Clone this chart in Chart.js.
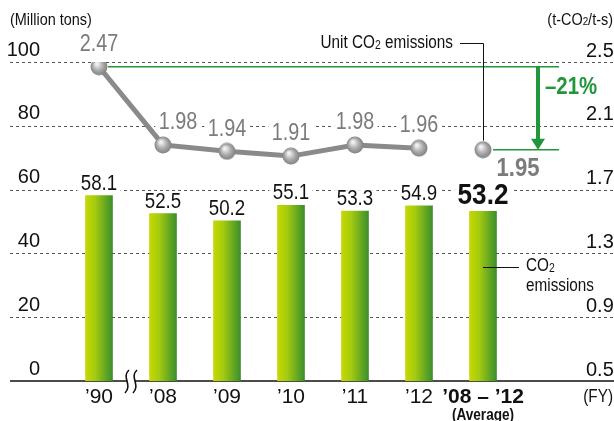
<!DOCTYPE html>
<html>
<head>
<meta charset="utf-8">
<script src="https://cdn.jsdelivr.net/npm/chart.js@4"></script>
<style>
  body { margin: 0; background: #fff; }
  #wrap { width: 614px; height: 421px; }
</style>
</head>
<body>
<div id="wrap"><canvas id="chart" width="614" height="421"></canvas></div>
<script>
const years = ["’90", "’08", "’09", "’10", "’11", "’12", "’08 – ’12"];
const co2Emissions = [58.1, 52.5, 50.2, 55.1, 53.3, 54.9, 53.2];
const unitEmissions = [2.47, 1.98, 1.94, 1.91, 1.98, 1.96, 1.95];
const leftTicks = [0, 20, 40, 60, 80, 100];
const rightTicks = [0.5, 0.9, 1.3, 1.7, 2.1, 2.5];
const reduction = "–21%";

const FONT = "'Liberation Sans', Arial, sans-serif";
const SQUEEZE = 0.85; // reference uses a condensed face
const LAST = years.length - 1;

// grey ball used as point marker
function makeBall(r) {
    const c = document.createElement("canvas");
    c.width = c.height = r * 2;
    const g = c.getContext("2d");
    const grad = g.createRadialGradient(r * 0.75, r * 0.65, 1, r, r, r);
    grad.addColorStop(0, "#f2f2f2");
    grad.addColorStop(0.55, "#a8a8a8");
    grad.addColorStop(1, "#7d7d7d");
    g.fillStyle = grad;
    g.beginPath();
    g.arc(r, r, r - 0.5, 0, Math.PI * 2);
    g.fill();
    return c;
}
const ball = makeBall(9);

// condensed text, optionally knocked out of the dashed grid with a white box
function narrowText(ctx, text, x, y, font, color, align, squeeze, knockout) {
    ctx.save();
    ctx.font = font;
    ctx.textAlign = align || "center";
    ctx.textBaseline = "middle";
    ctx.translate(x, y);
    ctx.scale(squeeze || SQUEEZE, 1);
    if (knockout) {
        const w = ctx.measureText(text).width + 8;
        const h = parseFloat(font.match(/(\d+)px/)[1]) * 0.8;
        ctx.fillStyle = "#fff";
        ctx.fillRect(-w / 2, -h / 2, w, h);
    }
    ctx.fillStyle = color;
    ctx.fillText(text, 0, 0);
    ctx.restore();
}

// text with a subscript "2": parts = [[text, isSub], ...]
function drawParts(ctx, parts, x, y, align, size) {
    ctx.save();
    ctx.fillStyle = "#111";
    ctx.textBaseline = "middle";
    ctx.textAlign = "left";
    let total = 0;
    parts.forEach(([t, sub]) => {
        ctx.font = (sub ? size * 0.68 : size) + "px " + FONT;
        total += ctx.measureText(t).width;
    });
    ctx.translate(x, y);
    ctx.scale(SQUEEZE, 1);
    let cx = align === "right" ? -total : 0;
    parts.forEach(([t, sub]) => {
        ctx.font = (sub ? size * 0.68 : size) + "px " + FONT;
        ctx.fillText(t, cx, sub ? size * 0.12 : 0);
        cx += ctx.measureText(t).width;
    });
    ctx.restore();
}

const decorPlugin = {
    id: "decor",
    beforeDatasetsDraw(chart) {
        const ctx = chart.ctx;
        const y = chart.scales.y;
        ctx.save();
        ctx.strokeStyle = "#555";
        ctx.lineWidth = 1;
        ctx.setLineDash([3, 3]);
        leftTicks.forEach((v) => {
            if (v === leftTicks[0]) return;
            const py = Math.round(y.getPixelForValue(v)) + 0.5;
            ctx.beginPath();
            ctx.moveTo(10, py);
            ctx.lineTo(614, py);
            ctx.stroke();
        });
        ctx.setLineDash([]);
        ctx.strokeStyle = "#111";
        ctx.lineWidth = 1.5;
        const base = y.getPixelForValue(leftTicks[0]);
        ctx.beginPath();
        ctx.moveTo(10, base);
        ctx.lineTo(614, base);
        ctx.stroke();
        ctx.restore();
    },
    afterDatasetsDraw(chart) {
        const ctx = chart.ctx;
        const bars = chart.getDatasetMeta(1).data;
        const pts = chart.getDatasetMeta(0).data;
        const xs = chart.scales.x;
        const base = chart.scales.y.getPixelForValue(0);

        // bar values
        bars.forEach((b, i) => {
            if (i === LAST) {
                narrowText(ctx, co2Emissions[i].toFixed(1), b.x, b.y - 15, "bold 29px " + FONT, "#111", "center", 0.9, true);
            } else {
                narrowText(ctx, co2Emissions[i].toFixed(1), b.x, b.y - 12, "22px " + FONT, "#111", "center", SQUEEZE, true);
            }
        });

        // line values (the '08 label is nudged right, clear of the falling line)
        pts.forEach((p, i) => {
            if (i === LAST) {
                narrowText(ctx, unitEmissions[i].toFixed(2), p.x + 35, p.y + 19, "bold 26px " + FONT, "#7b7b7b");
            } else {
                const dx = i === 1 ? 15 : 0;
                narrowText(ctx, unitEmissions[i].toFixed(2), p.x + dx, p.y - 22, "23px " + FONT, "#7b7b7b", "center", 0.86, true);
            }
        });

        ctx.save();
        // break mark on the axis
        const mid = (xs.getPixelForValue(0) + xs.getPixelForValue(1)) / 2;
        ctx.fillStyle = "#fff";
        ctx.fillRect(mid - 4, base - 2, 8, 4);
        ctx.strokeStyle = "#111";
        ctx.lineWidth = 1.6;
        [-4, 4].forEach((d) => {
            const sx = mid + d;
            ctx.beginPath();
            ctx.moveTo(sx + 2, base - 11);
            ctx.bezierCurveTo(sx - 6, base - 4, sx + 6, base + 4, sx - 2, base + 12);
            ctx.stroke();
        });

        // reduction lines and arrow
        const p0 = pts[0], pl = pts[LAST];
        ctx.strokeStyle = "#21963a";
        ctx.lineWidth = 1.6;
        ctx.beginPath();
        ctx.moveTo(p0.x + 9, p0.y);
        ctx.lineTo(559, p0.y);
        ctx.moveTo(pl.x + 10, pl.y);
        ctx.lineTo(559, pl.y);
        ctx.stroke();
        ctx.lineWidth = 4;
        ctx.beginPath();
        ctx.moveTo(538, p0.y);
        ctx.lineTo(538, pl.y - 10);
        ctx.stroke();
        ctx.fillStyle = "#21963a";
        ctx.beginPath();
        ctx.moveTo(531, pl.y - 11);
        ctx.lineTo(545, pl.y - 11);
        ctx.lineTo(538, pl.y);
        ctx.closePath();
        ctx.fill();

        // leader lines
        ctx.strokeStyle = "#111";
        ctx.lineWidth = 1;
        ctx.beginPath();
        ctx.moveTo(460, 43.5);
        ctx.lineTo(pl.x + 0.5, 43.5);
        ctx.lineTo(pl.x + 0.5, pl.y - 9);
        ctx.moveTo(bars[LAST].x, 267.5);
        ctx.lineTo(519, 267.5);
        ctx.stroke();
        ctx.restore();

        narrowText(ctx, reduction, 545, 87, "bold 24px " + FONT, "#21963a", "left");
        drawParts(ctx, [["Unit CO", false], ["2", true], [" emissions", false]], 453, 43, "right", 18);
        drawParts(ctx, [["CO", false], ["2", true]], 526, 266, "left", 18);
        drawParts(ctx, [["emissions", false]], 526, 286, "left", 18);
        drawParts(ctx, [["(Million tons)", false]], 10, 20, "left", 17);
        drawParts(ctx, [["(t-CO", false], ["2", true], ["/t-s)", false]], 613, 20, "right", 17);
        drawParts(ctx, [["(FY)", false]], 613, 397, "right", 18);
        narrowText(ctx, "(Average)", xs.getPixelForValue(LAST), 416, "bold 16px " + FONT, "#111");
    },
};

function barGradient(context) {
    const chart = context.chart;
    if (!chart.chartArea) return "#8cbf1a";
    const x = chart.scales.x.getPixelForValue(context.dataIndex);
    const g = chart.ctx.createLinearGradient(x - 13.5, 0, x + 13.5, 0);
    g.addColorStop(0, "#c6d800");
    g.addColorStop(0.35, "#a6cb10");
    g.addColorStop(1, "#3a8f2a");
    return g;
}

// y axes: fixed width, no extra vertical padding from tick padding
function fixAxis(width) {
    return (s) => {
        s.width = width;
        s.paddingTop = 0;
        s.paddingBottom = 0;
    };
}

new Chart(document.getElementById("chart"), {
    type: "bar",
    data: {
        labels: years,
        datasets: [
            {
                type: "line",
                label: "Unit CO2 emissions",
                data: unitEmissions,
                yAxisID: "y1",
                borderColor: "#8a8a8a",
                borderWidth: 5,
                pointStyle: ball,
                pointRadius: 9,
                order: 0,
                segment: {
                    borderColor: (ctx) => (ctx.p1DataIndex === LAST ? "rgba(0,0,0,0)" : "#8a8a8a"),
                },
            },
            {
                label: "CO2 emissions",
                data: co2Emissions,
                yAxisID: "y",
                backgroundColor: barGradient,
                barThickness: 27,
                order: 1,
            },
        ],
    },
    options: {
        responsive: false,
        animation: false,
        layout: { padding: { top: 62 } },
        plugins: {
            legend: { display: false },
            tooltip: { enabled: false },
        },
        scales: {
            x: {
                grid: { display: false, drawTicks: false },
                border: { display: false },
                afterFit: (s) => { s.height = 40; },
                ticks: {
                    padding: 4,
                    color: "#111",
                    maxRotation: 0,
                    autoSkip: false,
                    font: (c) => ({
                        family: FONT,
                        size: 21,
                        weight: c.index === LAST ? "bold" : "normal",
                    }),
                },
            },
            y: {
                position: "left",
                min: leftTicks[0],
                max: leftTicks[leftTicks.length - 1],
                grid: { display: false, drawTicks: false },
                border: { display: false },
                afterFit: fixAxis(67),
                afterBuildTicks: (s) => { s.ticks = leftTicks.map((v) => ({ value: v })); },
                ticks: {
                    padding: 27,
                    labelOffset: -12,
                    color: "#111",
                    font: { family: FONT, size: 20 },
                },
            },
            y1: {
                position: "right",
                min: rightTicks[0],
                max: rightTicks[rightTicks.length - 1],
                grid: { display: false, drawTicks: false },
                border: { display: false },
                afterFit: fixAxis(99),
                afterBuildTicks: (s) => { s.ticks = rightTicks.map((v) => ({ value: v })); },
                ticks: {
                    padding: 71,
                    labelOffset: -11,
                    color: "#111",
                    font: { family: FONT, size: 20 },
                    callback: (v) => Number(v).toFixed(1),
                },
            },
        },
    },
    plugins: [decorPlugin],
});
</script>
</body>
</html>
